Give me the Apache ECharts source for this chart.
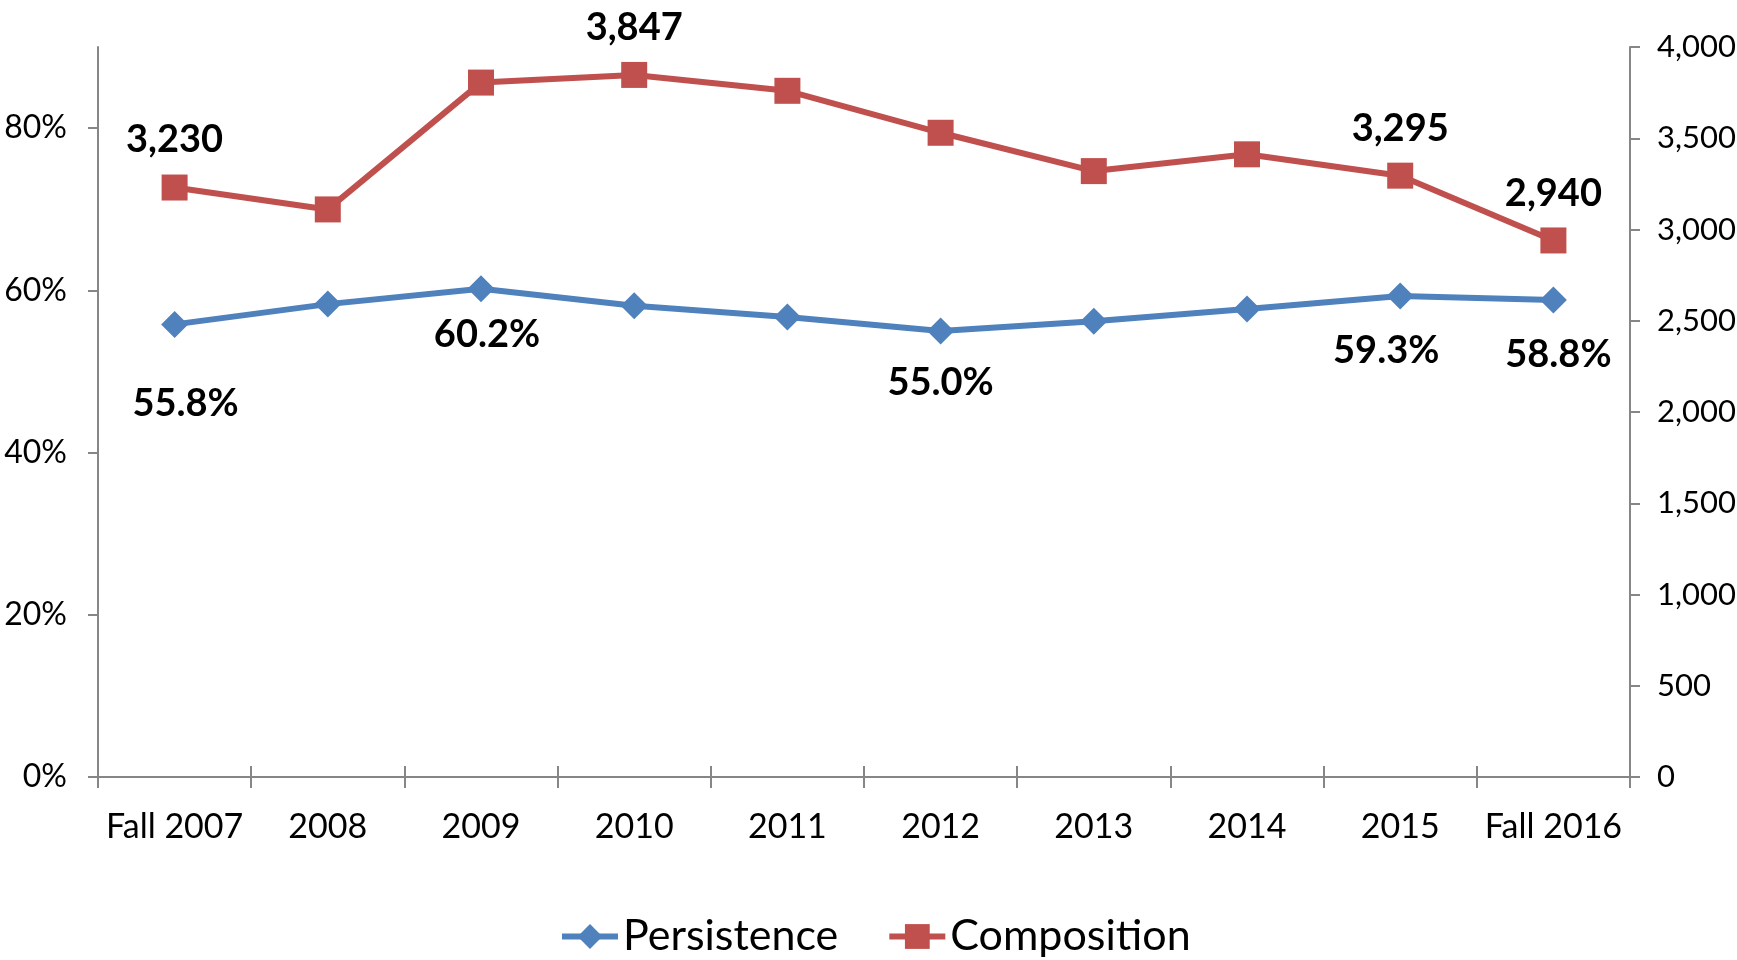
<!DOCTYPE html>
<html>
<head>
<meta charset="utf-8">
<script src="https://cdn.jsdelivr.net/npm/echarts@6/dist/echarts.min.js"></script>
<style>
html,body{margin:0;padding:0;background:#fff;}
#chart{width:1737px;height:960px;}
</style>
</head>
<body>
<div id="chart"></div>
<script>
// ---- data ----
const categories = ['Fall 2007','2008','2009','2010','2011','2012','2013','2014','2015','Fall 2016'];
const persistence = [55.8, 58.3, 60.2, 58.1, 56.7, 55.0, 56.2, 57.7, 59.3, 58.8];
const composition = [3230, 3110, 3805, 3847, 3760, 3530, 3320, 3412, 3295, 2940];
const leftTicks = [0, 20, 40, 60, 80];
const persistenceLabeled = [0, 2, 5, 8, 9];
const compositionLabeled = [0, 3, 8, 9];

// ---- styles ----
const FONT = 'Lato';
const persistenceLabelOffsets = {0:[11,79], 2:[6,46], 5:[0,52], 8:[-14,55], 9:[5,55]};
const compositionLabelOffsets = {0:[0,-48], 3:[0,-47], 8:[0,-47], 9:[0,-47]};

function buildData(values, labeled, offsets, fmt) {
  return values.map((v, i) => {
    if (labeled.indexOf(i) >= 0) {
      return {value: v, label: {show: true, position: 'inside', offset: offsets[i], formatter: fmt(v)}};
    }
    return {value: v};
  });
}

const axisLineStyle = {color: '#868686', width: 2};
const labelStyle = {color: '#000', fontFamily: FONT, fontSize: 34};

const chart = echarts.init(document.getElementById('chart'), null, {renderer: 'canvas'});
chart.setOption({
  backgroundColor: '#fff',
  animation: false,
  grid: {left: 98, right: 107, top: 47, bottom: 183, containLabel: false, outerBoundsMode: 'none'},
  legend: {
    left: 559, top: 915, padding: 0,
    itemWidth: 56, itemHeight: 31, itemGap: 48,
    lineStyle: {width: 6},
    textStyle: {color: '#000', fontFamily: FONT, fontSize: 43},
    data: ['Persistence', 'Composition']
  },
  xAxis: [{
    type: 'category', data: categories, boundaryGap: true,
    axisLine: {lineStyle: axisLineStyle},
    axisTick: {show: true, length: 11, lineStyle: axisLineStyle},
    axisLabel: Object.assign({margin: 33, interval: 0}, labelStyle),
    splitLine: {show: false}
  }, {
    type: 'category', data: categories, boundaryGap: true, position: 'bottom',
    axisLine: {show: false},
    axisTick: {show: true, inside: true, length: 11, lineStyle: axisLineStyle},
    axisLabel: {show: false},
    splitLine: {show: false}
  }],
  yAxis: [{
    type: 'value', min: 0, max: 90, interval: 20, position: 'left',
    axisLine: {show: true, lineStyle: axisLineStyle},
    axisTick: {show: true, length: 10, lineStyle: axisLineStyle, customValues: leftTicks},
    axisLabel: Object.assign({}, labelStyle, {margin: 31, fontSize: 32, formatter: '{value}%', customValues: leftTicks}),
    splitLine: {show: false}
  }, {
    type: 'value', min: 0, max: 4000, interval: 500, position: 'right',
    axisLine: {show: true, lineStyle: axisLineStyle},
    axisTick: {show: true, length: 10, lineStyle: axisLineStyle},
    axisLabel: Object.assign({}, labelStyle, {margin: 27, fontSize: 31, formatter: v => v.toLocaleString('en-US')}),
    splitLine: {show: false}
  }],
  series: [{
    name: 'Persistence', type: 'line', xAxisIndex: 0, yAxisIndex: 0,
    data: buildData(persistence, persistenceLabeled, persistenceLabelOffsets, v => v.toFixed(1) + '%'),
    symbol: 'diamond', symbolSize: [27, 27], showAllSymbol: true,
    lineStyle: {color: '#4F81BD', width: 6},
    itemStyle: {color: '#4F81BD'},
    label: {show: false, color: '#000', fontFamily: FONT, fontWeight: 'bold', fontSize: 38},
    z: 3
  }, {
    name: 'Composition', type: 'line', xAxisIndex: 0, yAxisIndex: 1,
    data: buildData(composition, compositionLabeled, compositionLabelOffsets, v => v.toLocaleString('en-US')),
    symbol: 'rect', symbolSize: 26, showAllSymbol: true,
    lineStyle: {color: '#C0504D', width: 6},
    itemStyle: {color: '#C0504D'},
    label: {show: false, color: '#000', fontFamily: FONT, fontWeight: 'bold', fontSize: 38},
    z: 3
  }]
});
</script>
</body>
</html>
